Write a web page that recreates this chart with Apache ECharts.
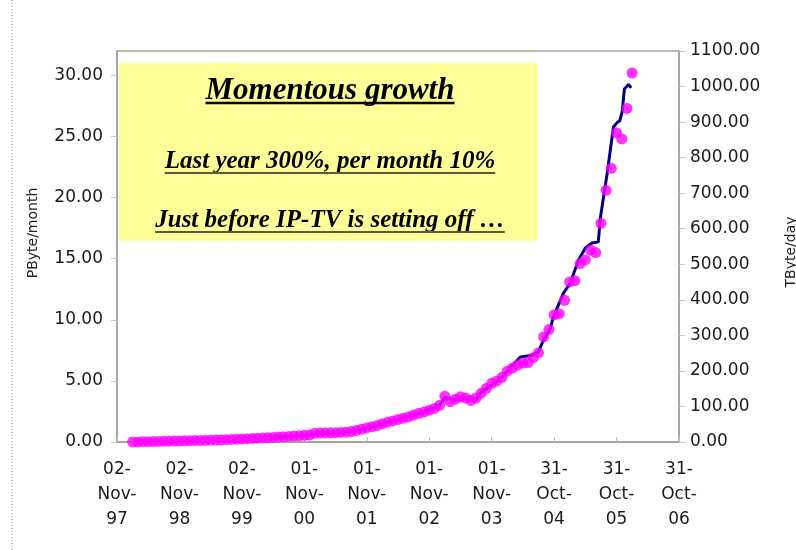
<!DOCTYPE html>
<html>
<head>
<meta charset="utf-8">
<title>Momentous growth</title>
<style>
  html, body { margin: 0; padding: 0; background: #fff; }
  #main { width: 796px; height: 550px; }
</style>
</head>
<body>
<div id="main"></div>
<script src="https://cdn.jsdelivr.net/npm/echarts@6/dist/echarts.min.js"></script>
<script>
// x axis: months counted from 02-Nov-97, one label per year
var xLabels = ['02-\nNov-\n97', '02-\nNov-\n98', '02-\nNov-\n99', '01-\nNov-\n00', '01-\nNov-\n01',
               '01-\nNov-\n02', '01-\nNov-\n03', '31-\nOct-\n04', '31-\nOct-\n05', '31-\nOct-\n06'];

// monthly volume (PByte/month), first dot is month 3
var firstMonth = 3;
var pbMonth = [
  0.00, 0.01, 0.02, 0.03, 0.04, 0.05, 0.06, 0.07,
  0.08, 0.09, 0.10, 0.11, 0.12, 0.13, 0.14, 0.15, 0.16, 0.17,
  0.19, 0.21, 0.23, 0.25, 0.27, 0.29, 0.31, 0.33, 0.35, 0.37,
  0.40, 0.43, 0.46, 0.49, 0.52, 0.55, 0.57,
  0.72, 0.73, 0.74, 0.75, 0.76, 0.78, 0.80,
  0.85, 0.95, 1.05, 1.15, 1.25, 1.35,
  1.50, 1.62, 1.72, 1.85, 1.95, 2.05, 2.20, 2.35, 2.45, 2.60,
  2.75, 3.00, 3.75, 3.30, 3.50, 3.70, 3.60, 3.40, 3.60, 4.00,
  4.40, 4.80, 5.00, 5.30, 5.80, 6.05, 6.30, 6.46, 6.50, 6.90,
  7.30, 8.60, 9.20, 10.40, 10.50, 11.60, 13.10, 13.20, 14.60, 14.90,
  15.70, 15.50, 17.90, 20.60, 22.40, 25.30, 24.80, 27.30, 30.20
];

// daily volume (TByte/day), navy line
var tbMonths = [30, 34, 38, 39, 42, 46, 50, 54, 58, 62, 63, 65, 67, 69, 70, 72, 74, 76, 77.5, 79.8,
                81, 81.9, 83.3, 83.8, 85.8, 87.1, 88.7, 90, 91.3, 92.5, 92.9, 94.2, 95.4, 96.2,
                96.6, 97.1, 97.5, 98.3, 98.8];
var tbDay = [12, 17, 20, 25, 26, 32, 46, 63, 80, 103, 125, 118, 124, 118, 141, 160, 182, 216, 239, 244,
             254, 285, 320, 350, 419, 447, 512, 546, 560, 563, 632, 756, 886, 900,
             903, 931, 993, 1006, 996];

var dots = pbMonth.map(function (v, i) { return [firstMonth + i, v]; });
var line = tbMonths.map(function (m, i) { return [m, tbDay[i]]; });

var axisFont = 'DejaVu Sans';
var serif = 'Liberation Serif';

function textWidth(str, font) {
    var ctx = document.createElement('canvas').getContext('2d');
    ctx.font = font;
    return ctx.measureText(str).width;
}

// yellow note box; base = baseline y, ul = underline y
var boxTexts = [
    { text: 'Momentous growth', size: 31, base: 100, ul: 103, ulw: 2.6, ulc: '#000' },
    { text: 'Last year 300%, per month 10%', size: 25, base: 169, ul: 173, ulw: 2, ulc: '#5a5a3c' },
    { text: 'Just before IP-TV is setting off \u2026', size: 25, base: 228, ul: 232, ulw: 2, ulc: '#5a5a3c' }
];
var cx = 330;
var graphics = [
    { type: 'line', shape: { x1: 12, y1: 0, x2: 12, y2: 550 },
      style: { stroke: '#999', lineWidth: 1, lineDash: [1, 2] } },
    { type: 'rect', shape: { x: 119, y: 63, width: 419, height: 178 },
      style: { fill: '#ffff99' }, z: 1 },
    { type: 'text', x: 33, y: 233, rotation: Math.PI / 2,
      style: { text: 'PByte/month', font: '14px "' + axisFont + '"', fill: '#222',
               align: 'center', verticalAlign: 'middle' } },
    { type: 'text', x: 791, y: 252, rotation: Math.PI / 2,
      style: { text: 'TByte/day', font: '14px "' + axisFont + '"', fill: '#222',
               align: 'center', verticalAlign: 'middle' } }
];
boxTexts.forEach(function (t) {
    var font = 'italic bold ' + t.size + 'px "' + serif + '"';
    var w = textWidth(t.text, font);
    graphics.push({ type: 'text', x: cx, y: t.base - 0.8 * t.size, z: 2,
        style: { text: t.text, font: font, fill: '#000', align: 'center', verticalAlign: 'top' } });
    graphics.push({ type: 'line', z: 2, shape: { x1: cx - w / 2, y1: t.ul, x2: cx + w / 2, y2: t.ul },
        style: { stroke: t.ulc, lineWidth: t.ulw } });
});

var chart = echarts.init(document.getElementById('main'));
chart.setOption({
    animation: false,
    backgroundColor: '#fff',
    grid: { left: 117, right: 117, top: 51, bottom: 108, show: true, borderColor: '#a0a0a0', borderWidth: 1.5 },
    graphic: graphics,
    xAxis: {
        type: 'value', min: 0, max: 108, interval: 12,
        axisLine: { show: true, lineStyle: { color: '#a0a0a0', width: 1.5 } },
        axisTick: { show: true, inside: true, length: 5, lineStyle: { color: '#c0c0c0' } },
        splitLine: { show: false },
        axisLabel: {
            margin: 15, fontFamily: axisFont, fontSize: 17, color: '#1a1a1a', lineHeight: 25,
            formatter: function (v) { return xLabels[Math.round(v / 12)] || ''; }
        }
    },
    yAxis: [{
        type: 'value', min: 0, max: 32, interval: 5, position: 'left',
        axisLine: { show: true, lineStyle: { color: '#a0a0a0', width: 1.5 } },
        axisTick: { show: true, length: 6, lineStyle: { color: '#c8c8c8' } },
        splitLine: { show: false },
        axisLabel: { margin: 14, fontFamily: axisFont, fontSize: 17, color: '#1a1a1a', showMaxLabel: false,
                     formatter: function (v) { return v.toFixed(2); } }
    }, {
        type: 'value', min: 0, max: 1100, interval: 100, position: 'right',
        axisLine: { show: true, lineStyle: { color: '#a0a0a0', width: 1.5 } },
        axisTick: { show: true, length: 6, lineStyle: { color: '#c8c8c8' } },
        splitLine: { show: false },
        axisLabel: { margin: 11, fontFamily: axisFont, fontSize: 17, color: '#1a1a1a',
                     formatter: function (v) { return v.toFixed(2); } }
    }],
    series: [{
        name: 'TByte/day', type: 'line', yAxisIndex: 1, data: line,
        showSymbol: false, z: 2,
        lineStyle: { color: '#000080', width: 3 }
    }, {
        name: 'PByte/month', type: 'scatter', yAxisIndex: 0, data: dots,
        symbol: 'circle', symbolSize: 11, z: 3,
        itemStyle: { color: '#ff00ff' }
    }]
});
</script>
</body>
</html>
